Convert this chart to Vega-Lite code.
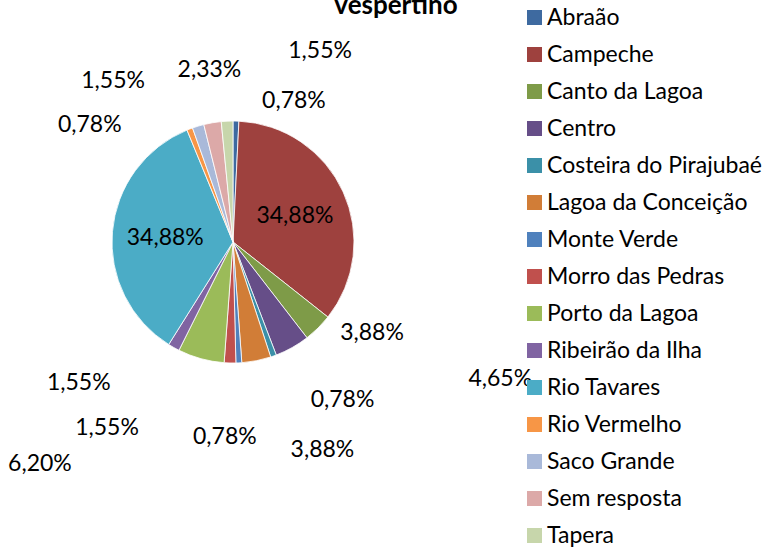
{
  "$schema": "https://vega.github.io/schema/vega-lite/v6.json",
  "autosize": {"type": "none"},
  "padding": {"left": 0, "top": 0, "right": 300, "bottom": 63},
  "width": 466,
  "height": 484,
  "background": "white",
  "title": {"text": "vespertino", "font": "Lato", "fontSize": 26, "fontWeight": "bold", "color": "black", "anchor": "middle", "offset": 0, "baseline": "alphabetic", "dx": 163, "dy": 40},
  "data": {"values": [
    {"bairro": "Abraão", "pct": 0.0078},
    {"bairro": "Campeche", "pct": 0.3488},
    {"bairro": "Canto da Lagoa", "pct": 0.0388},
    {"bairro": "Centro", "pct": 0.0465},
    {"bairro": "Costeira do Pirajubaé", "pct": 0.0078},
    {"bairro": "Lagoa da Conceição", "pct": 0.0388},
    {"bairro": "Monte Verde", "pct": 0.0078},
    {"bairro": "Morro das Pedras", "pct": 0.0155},
    {"bairro": "Porto da Lagoa", "pct": 0.0620},
    {"bairro": "Ribeirão da Ilha", "pct": 0.0155},
    {"bairro": "Rio Tavares", "pct": 0.3488},
    {"bairro": "Rio Vermelho", "pct": 0.0078},
    {"bairro": "Saco Grande", "pct": 0.0155},
    {"bairro": "Sem resposta", "pct": 0.0233},
    {"bairro": "Tapera", "pct": 0.0155}
  ]},
  "encoding": {
    "theta": {"field": "pct", "type": "quantitative", "stack": true},
    "order": {"field": "bairro", "type": "ordinal", "sort": "ascending"}
  },
  "layer": [
    {
      "mark": {"type": "arc", "outerRadius": 121, "stroke": "white", "strokeWidth": 0.8},
      "encoding": {
        "color": {
          "field": "bairro", "type": "nominal",
          "scale": {
            "domain": ["Abraão", "Campeche", "Canto da Lagoa", "Centro", "Costeira do Pirajubaé", "Lagoa da Conceição", "Monte Verde", "Morro das Pedras", "Porto da Lagoa", "Ribeirão da Ilha", "Rio Tavares", "Rio Vermelho", "Saco Grande", "Sem resposta", "Tapera"],
            "range": ["#3E6AA0", "#9E413E", "#7E9B48", "#664E88", "#3B90A8", "#D17D37", "#4F81BD", "#C0504D", "#9BBB59", "#8064A2", "#4BACC6", "#F79646", "#A9B9D9", "#DCA9A8", "#C7D6AB"]
          },
          "legend": {
            "title": null, "orient": "none", "legendX": 523, "legendY": 6,
            "symbolType": "square", "symbolSize": 225, "symbolStrokeWidth": 0,
            "labelFont": "Lato", "labelFontSize": 23, "labelColor": "black",
            "labelOffset": 1, "rowPadding": 13, "padding": 0, "labelLimit": 300
          }
        }
      }
    },
    {
      "mark": {"type": "text", "radius": 68, "dy": 2},
      "encoding": {"detail": {"field": "bairro"}, "text": {"field": "pct", "format": ".2%", "condition": {"test": "datum.bairro !== 'Campeche' && datum.bairro !== 'Rio Tavares'", "value": ""}}}
    },
    {"mark": {"type": "text", "radius": 121, "dx": 58, "dy": -20}, "encoding": {"detail": {"field": "bairro"}, "text": {"field": "pct", "format": ".2%", "condition": {"test": "datum.bairro !== 'Abraão'", "value": ""}}}},
    {"mark": {"type": "text", "radius": 121, "dx": 54, "dy": 5}, "encoding": {"detail": {"field": "bairro"}, "text": {"field": "pct", "format": ".2%", "condition": {"test": "datum.bairro !== 'Canto da Lagoa'", "value": ""}}}},
    {"mark": {"type": "text", "radius": 121, "dx": 208, "dy": 31}, "encoding": {"detail": {"field": "bairro"}, "text": {"field": "pct", "format": ".2%", "condition": {"test": "datum.bairro !== 'Centro'", "value": ""}}}},
    {"mark": {"type": "text", "radius": 121, "dx": 69, "dy": 44}, "encoding": {"detail": {"field": "bairro"}, "text": {"field": "pct", "format": ".2%", "condition": {"test": "datum.bairro !== 'Costeira do Pirajubaé'", "value": ""}}}},
    {"mark": {"type": "text", "radius": 121, "dx": 66, "dy": 89}, "encoding": {"detail": {"field": "bairro"}, "text": {"field": "pct", "format": ".2%", "condition": {"test": "datum.bairro !== 'Lagoa da Conceição'", "value": ""}}}},
    {"mark": {"type": "text", "radius": 121, "dx": -14, "dy": 74}, "encoding": {"detail": {"field": "bairro"}, "text": {"field": "pct", "format": ".2%", "condition": {"test": "datum.bairro !== 'Monte Verde'", "value": ""}}}},
    {"mark": {"type": "text", "radius": 121, "dx": -123, "dy": 65}, "encoding": {"detail": {"field": "bairro"}, "text": {"field": "pct", "format": ".2%", "condition": {"test": "datum.bairro !== 'Morro das Pedras'", "value": ""}}}},
    {"mark": {"type": "text", "radius": 121, "dx": -161, "dy": 105}, "encoding": {"detail": {"field": "bairro"}, "text": {"field": "pct", "format": ".2%", "condition": {"test": "datum.bairro !== 'Porto da Lagoa'", "value": ""}}}},
    {"mark": {"type": "text", "radius": 121, "dx": -95, "dy": 35}, "encoding": {"detail": {"field": "bairro"}, "text": {"field": "pct", "format": ".2%", "condition": {"test": "datum.bairro !== 'Ribeirão da Ilha'", "value": ""}}}},
    {"mark": {"type": "text", "radius": 121, "dx": -100, "dy": -4}, "encoding": {"detail": {"field": "bairro"}, "text": {"field": "pct", "format": ".2%", "condition": {"test": "datum.bairro !== 'Rio Vermelho'", "value": ""}}}},
    {"mark": {"type": "text", "radius": 121, "dx": -85, "dy": -45}, "encoding": {"detail": {"field": "bairro"}, "text": {"field": "pct", "format": ".2%", "condition": {"test": "datum.bairro !== 'Saco Grande'", "value": ""}}}},
    {"mark": {"type": "text", "radius": 121, "dx": -3, "dy": -53}, "encoding": {"detail": {"field": "bairro"}, "text": {"field": "pct", "format": ".2%", "condition": {"test": "datum.bairro !== 'Sem resposta'", "value": ""}}}},
    {"mark": {"type": "text", "radius": 121, "dx": 93, "dy": -70}, "encoding": {"detail": {"field": "bairro"}, "text": {"field": "pct", "format": ".2%", "condition": {"test": "datum.bairro !== 'Tapera'", "value": ""}}}}
  ],
  "config": {
    "view": {"stroke": null},
    "text": {"font": "Lato", "fontSize": 23, "color": "black", "align": "center", "baseline": "middle"},
    "locale": {"number": {"decimal": ",", "thousands": ".", "grouping": [3], "currency": ["", ""]}}
  }
}
